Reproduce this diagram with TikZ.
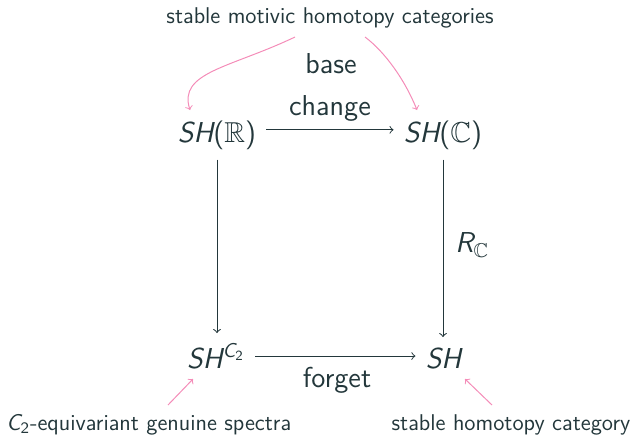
\documentclass[tikz,border=0pt]{standalone}
\usepackage{amsmath,amssymb}
\definecolor{fg}{HTML}{23373B}
\definecolor{pk}{HTML}{F48CB8}
\begin{document}
\begin{tikzpicture}[x=0.5pt,y=-0.5pt,
  every node/.style={text=fg},
  obj/.style={font=\fontsize{14.4}{17}\selectfont\sffamily, inner sep=5pt, anchor=base},
  lbl/.style={font=\fontsize{14.4}{17}\selectfont\sffamily, inner sep=0pt, anchor=base},
  lab/.style={font=\fontsize{11.4}{13}\selectfont\sffamily, inner sep=0pt, anchor=base},
  mor/.style={draw=fg, line width=0.5pt, -to},
  note/.style={draw=pk, line width=0.5pt, -to}]
\useasboundingbox (0,0) rectangle (636,435);
\node[lab] (top) at (330,23) {stable motivic homotopy categories};
\node[lbl] (base) at (331,73) {base};
\node[lbl] (change) at (330,115) {change};
\node[obj] (r) at (217,142) {{\itshape SH}($\mathbb{R}$)};
\node[obj] (c) at (443,142) {{\itshape SH}($\mathbb{C}$)};
\node[obj] (c2) at (216,368) {{\itshape SH}$^{\text{\itshape C}_{\text{2}}}$};
\node[obj] (sh) at (443.5,368) {{\itshape SH}};
\node[lbl, anchor=west] (rc) at (455,245) {{\itshape R}$_{\mathbb{C}}$};
\node[lbl] (forget) at (337,387) {forget};
\node[lab, anchor=base west] (eq) at (6,430) {{\itshape C}$_{\text{2}}$-equivariant genuine spectra};
\node[lab] (sht) at (511,430) {stable homotopy category};
\coordinate (p1) at (295,37);
\coordinate (p2) at (365,37);
\coordinate (p3) at (168,405);
\coordinate (p4) at (492,405);
\draw[mor] ([yshift=2.5pt]r.east) -- ([yshift=2.5pt]c.west |- r.east);
\draw[mor] (r.south) -- (r.south |- c2.north);
\draw[mor] (c.south) -- (c.south |- sh.north);
\draw[mor] (c2.east) -- (sh.west |- c2.east);
\draw[note] (p1) .. controls (230,68) and (178,72) .. ([xshift=-13.5pt]r.north);
\draw[note] (p2) .. controls (385,52) and (405,80) .. ([xshift=-13pt]c.north);
\draw[note] (p3) -- ([xshift=-11.5pt]c2.south);
\draw[note] (p4) -- ([xshift=10.75pt]sh.south);
\end{tikzpicture}
\end{document}
